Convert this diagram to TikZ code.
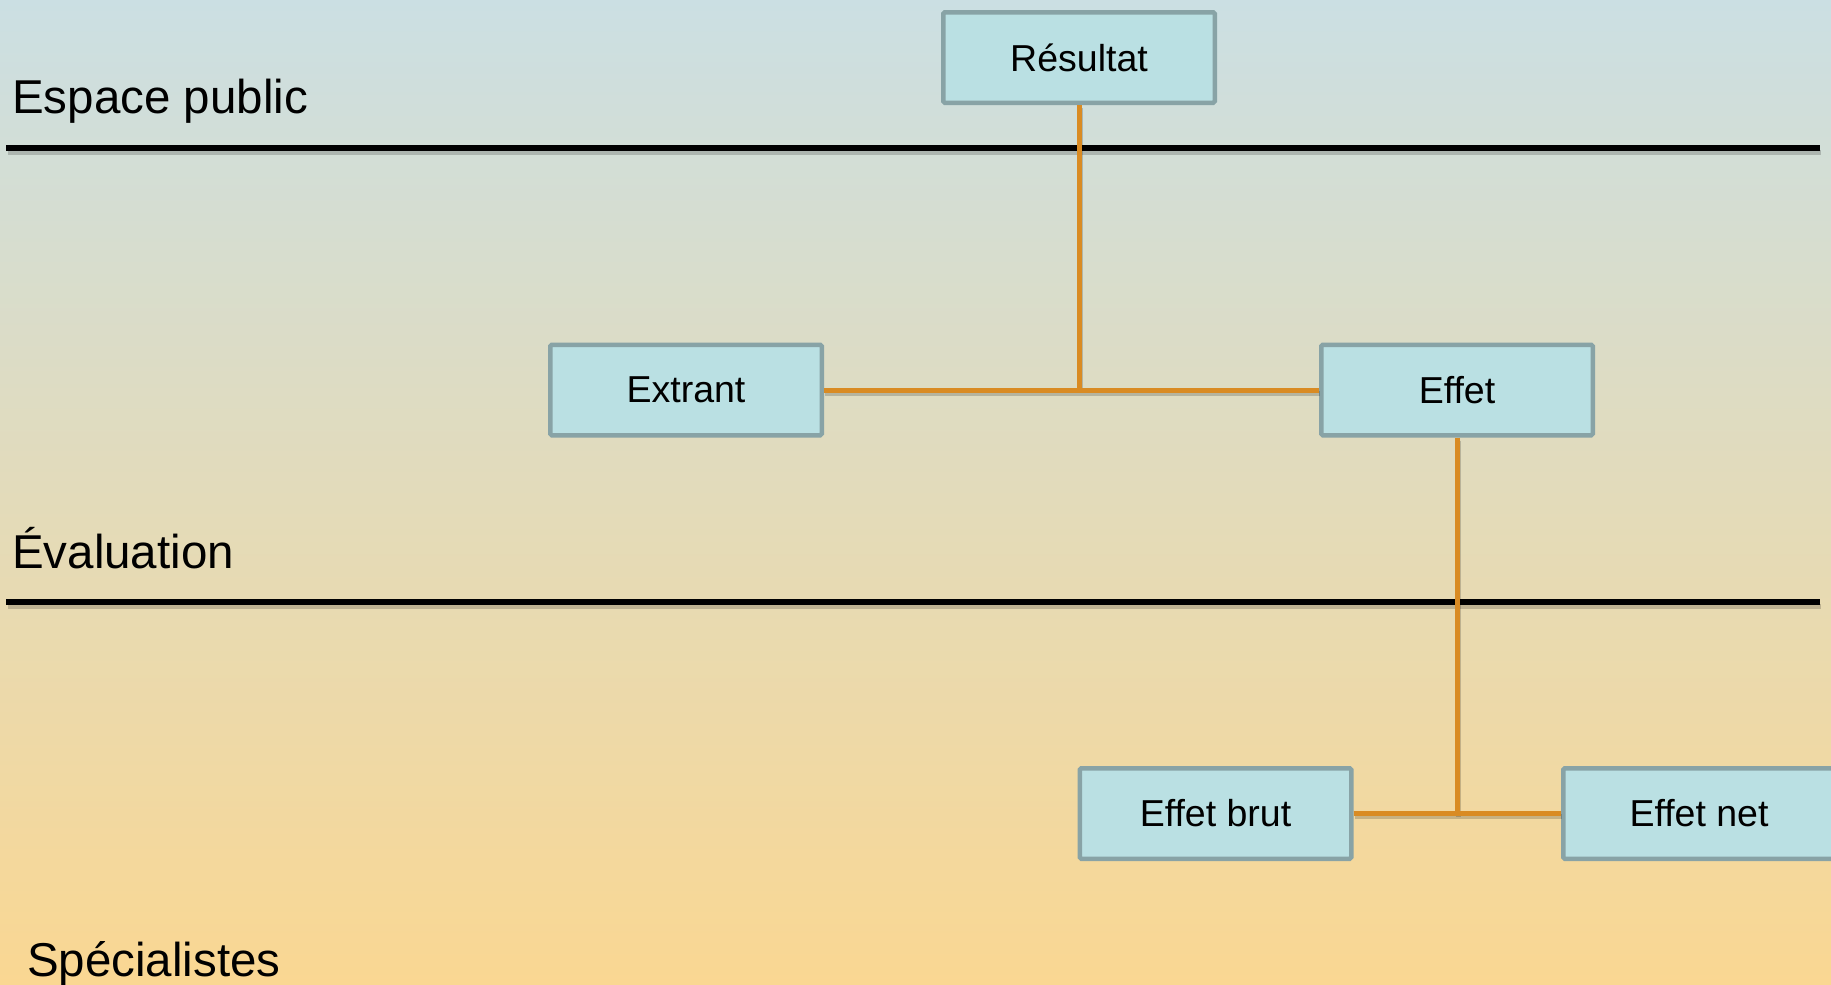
\documentclass[tikz,border=0pt]{standalone}
\usepackage{fontspec}
\setmainfont{Liberation Sans}
\definecolor{bgtop}{HTML}{CBDFE3}
\definecolor{bgbot}{HTML}{FAD792}
\definecolor{boxfill}{HTML}{BAE0E3}
\definecolor{boxline}{HTML}{88A3A6}
\definecolor{link}{HTML}{D98B23}
\tikzset{
  stepbox/.style={draw=boxline, fill=boxfill, line width=4.5pt, rounded corners=1.5pt,
    minimum width=271.5pt, minimum height=90.5pt, inner sep=0pt,
    font=\fontsize{37.5}{41}\selectfont},
  band/.style={anchor=base west, inner sep=0pt, font=\fontsize{47.5}{52}\selectfont},
  connector/.style={draw=link, line width=5pt},
  shadowline/.style={draw=black, opacity=0.18, line width=5pt},
  divider/.style={draw=black, line width=5.5pt}
}
\begin{document}
\begin{tikzpicture}[x=1pt,y=1pt]
\useasboundingbox (0,0) rectangle (1831,-985);
\fill[top color=bgtop, bottom color=bgbot] (0,0) rectangle (1831,-985);
% dividers
\draw[shadowline] (8,-152) -- (1821,-152);
\draw[divider] (6,-148) -- (1820,-148);
\draw[shadowline] (8,-606) -- (1821,-606);
\draw[divider] (6,-602) -- (1820,-602);
% band labels
\node[band] (lpub) at (12,-113) {Espace public};
\node[band] (leval) at (12,-568) {Évaluation};
\node[band] (lspec) at (27,-976) {Spécialistes};
% boxes
\node[stepbox] (res) at (1079,-57.5) {Résultat};
\node[stepbox] (ext) at (686,-390) {Extrant};
\node[stepbox] (eff) at (1457,-390) {Effet};
\node[stepbox] (brut) at (1215.5,-813.5) {Effet brut};
\node[stepbox] (net) at (1699,-813.5) {Effet net};
\coordinate (j1) at (1079,-390);
\coordinate (j2) at (1457,-813.5);
% connector shadows
\draw[shadowline] ([shift={(1,-3)}]res.south) -- ([shift={(1,-3)}]j1);
\draw[shadowline] ([shift={(1,-3)}]ext.east) -- ([shift={(1,-3)}]eff.west);
\draw[shadowline] ([shift={(1,-3)}]eff.south) -- ([shift={(1,-3)}]j2);
\draw[shadowline] ([shift={(1,-3)}]brut.east) -- ([shift={(1,-3)}]net.west);
% connectors
\draw[connector] (res.south) -- (j1);
\draw[connector] (ext.east) -- (eff.west);
\draw[connector] (eff.south) -- (j2);
\draw[connector] (brut.east) -- (net.west);
\end{tikzpicture}
\end{document}
